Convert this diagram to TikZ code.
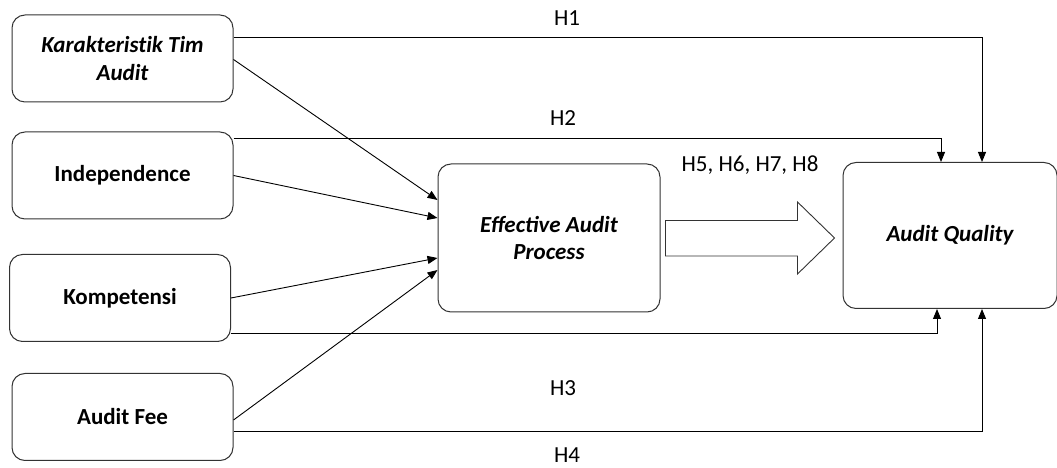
\documentclass[tikz,border=0pt]{standalone}
\usepackage{fontspec}
\setmainfont{Carlito}
\usetikzlibrary{arrows.meta}

\tikzset{
    varbox/.style={draw=black!80, line width=1pt, rounded corners=13pt, fill=white,
        align=center, font=\fontsize{23}{27.5}\selectfont\bfseries, inner sep=0pt},
    link/.style={line width=0.9pt, -{Triangle[length=10pt,width=8pt]}},
    hlabel/.style={font=\fontsize{23}{25}\selectfont, inner sep=0pt}
}

\begin{document}
\begin{tikzpicture}[x=1pt,y=1pt]
\useasboundingbox (0,0) rectangle (1057,468);

% variables
\node[varbox, minimum width=221, minimum height=87] (kti) at (122.5,409.5) {\addfontfeature{Ligatures=NoCommon}\itshape Karakteristik Tim\\ \itshape Audit};
\node[varbox, minimum width=221, minimum height=87] (ind) at (122.5,292.5) {Independence};
\node[varbox, minimum width=221, minimum height=87] (kom) at (120,170) {Kompetensi};
\node[varbox, minimum width=221, minimum height=87] (fee) at (122.5,51) {Audit Fee};
\node[varbox, minimum width=222, minimum height=148] (eap) at (549,230) {\itshape Effective Audit\\ \itshape Process};
\node[varbox, minimum width=214, minimum height=146] (aq) at (950,232.5) {\itshape Audit Quality};

% direct paths
\draw[link] ([yshift=21pt]kti.east) -| ([xshift=32pt]aq.north);
\draw[link] ([yshift=37pt]ind.east) -| ([xshift=-9pt]aq.north);
\draw[link] ([yshift=-35pt]kom.east) -| ([xshift=-13pt]aq.south);
\draw[link] ([yshift=-14pt]fee.east) -| ([xshift=32pt]aq.south);

% paths to the process
\draw[link] ([yshift=-1pt]kti.east) -- ([yshift=38pt]eap.west);
\draw[link] (ind.east) -- ([yshift=20pt]eap.west);
\draw[link] (kom.east) -- ([yshift=-20pt]eap.west);
\draw[link] ([yshift=-3pt]fee.east) -- ([yshift=-32pt]eap.west);

% block arrow
\draw[black!80, line width=0.9pt] ([xshift=5pt,yshift=17.5pt]eap.east) -- ++(132,0) -- ++(0,18.5)
    -- ++(37,-36) -- ++(-37,-36) -- ++(0,18) -- ++(-132,0) -- cycle;

% labels
\node[hlabel] (h1) at (567,450) {H1};
\node[hlabel] (h2) at (563,350) {H2};
\node[hlabel] (h3) at (563,80) {H3};
\node[hlabel] (h4) at (567,13) {H4};
\node[hlabel] (h58) at (750,303) {H5, H6, H7, H8};
\end{tikzpicture}
\end{document}
